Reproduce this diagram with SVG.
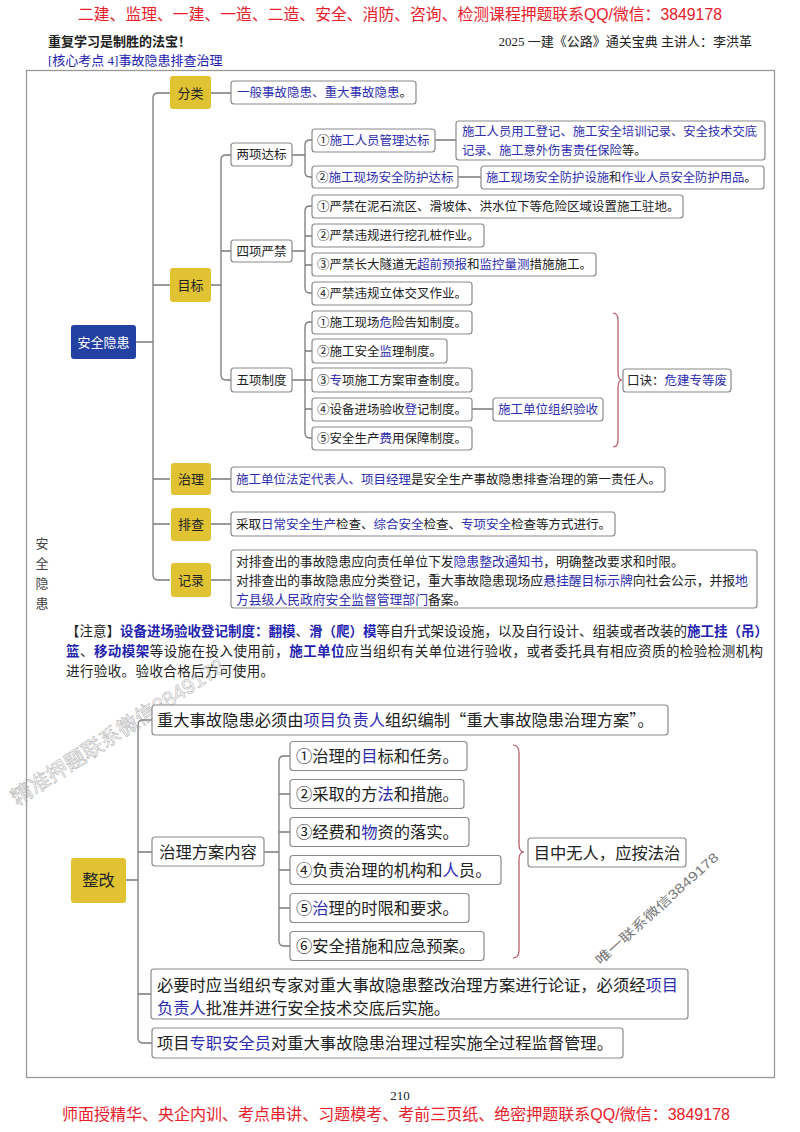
<svg xmlns="http://www.w3.org/2000/svg" width="800" height="1132" viewBox="0 0 800 1132">
<style>
.t{font-family:"Liberation Sans","Noto Sans CJK SC",sans-serif;font-size:12.5px;fill:#222}
.s{font-family:"Liberation Serif","Noto Sans CJK SC",serif}
.f13{font-size:13px}
.f123{font-size:12.3px}
.f135{font-size:13.5px}
.m{font-size:12.8px}
.l{font-size:16.3px}
.b{fill:#2e2eb0}
.bb{fill:#2323b0;font-weight:bold}
.red{fill:#e8202a;font-size:16px}
.box{fill:#fff;stroke:#8a8a8a;stroke-width:1.2}
.yb{fill:#e0c232}
.ln{fill:none;stroke:#7a7a7a;stroke-width:1.3}
.br{fill:none;stroke:#b5535f;stroke-width:1.2}
.c{text-anchor:middle}
.wm{fill:none;stroke:#a8a8a8;stroke-width:0.5;font-size:21px}
.cq{font-family:"Noto Sans CJK SC",sans-serif}
</style>
<rect width="800" height="1132" fill="#fff"/>
<g id="header">
<text class="t red c" x="400" y="20" textLength="644" lengthAdjust="spacingAndGlyphs">二建、监理、一建、一造、二造、安全、消防、咨询、检测课程押题联系QQ/微信：3849178</text>
<text class="t s f13" x="48" y="46" font-weight="bold">重复学习是制胜的法宝！</text>
<text class="t s f13" x="752" y="46" text-anchor="end">2025 一建《公路》通关宝典 主讲人：李洪革</text>
<text class="t s f13" x="48" y="65" style="fill:#2323b0">[核心考点 4]事故隐患排查治理</text>
</g>
<rect x="26.5" y="70.5" width="748" height="1007" fill="none" stroke="#999" stroke-width="1.3"/>
<g id="connectors">
<path class="ln" d="M136 342H153M170 93H158Q153 93 153 98V575Q153 580 158 580H170M153 285H170M153 479H170M153 524H170"/>
<path class="ln" d="M211 93H231M211 285H221M231 155H226Q221 155 221 160V375Q221 380 226 380H231M221 251H231"/>
<path class="ln" d="M292 155H305M312 140H310Q305 140 305 145V172Q305 177 310 177H312M435 140H456M458 177H481"/>
<path class="ln" d="M292 251H305M312 206H310Q305 206 305 211V288Q305 293 310 293H312M305 236H312M305 265H312"/>
<path class="ln" d="M292 380H305M312 322H310Q305 322 305 327V433Q305 438 310 438H312M305 351H312M305 380H312M305 409H312M472 409H493"/>
<path class="ln" d="M211 479H231M211 524H231M211 580H231"/>
<path class="br" d="M613 313Q618 313 618 320V372Q618 380 622 380Q618 380 618 388V440Q618 447 613 447"/>
<path class="ln" d="M152 720H143Q138 720 138 725V1038Q138 1043 143 1043H152M138 852H152M138 994H151M126 880H138M264 852H279"/>
<path class="ln" d="M290 756H284Q279 756 279 761V941Q279 946 284 946H290M279 794H290M279 832H290M279 870H290M279 908H290"/>
<path class="br" d="M513 745Q519 745 519 753V844Q519 852 524 852Q519 852 519 860V950Q519 958 513 958"/>
</g>
<g id="root"><rect x="71" y="325" width="65" height="34" rx="3" fill="#2340a3"/><text class="t c f13" x="103.5" y="347" style="fill:#fff">安全隐患</text></g>
<g id="fenlei"><rect class="yb" x="170" y="76" width="41" height="33" rx="3"/><text class="t c f13" x="190.5" y="97.5">分类</text></g>
<g id="fenlei-t"><rect class="box" x="231" y="81" width="185" height="23" rx="3"/><text class="t" x="237" y="97"><tspan class="b">一般事故隐患、重大事故隐患</tspan>。</text></g>
<g id="mubiao"><rect class="yb" x="170" y="268" width="41" height="34" rx="3"/><text class="t c f13" x="190.5" y="290">目标</text></g>
<g id="liangxiang"><rect class="box" x="231" y="143" width="61" height="23" rx="3"/><text class="t c" x="261.5" y="159">两项达标</text></g>
<g id="sixiang"><rect class="box" x="231" y="240" width="61" height="22" rx="3"/><text class="t c" x="261.5" y="255.5">四项严禁</text></g>
<g id="wuxiang"><rect class="box" x="231" y="368" width="61" height="24" rx="3"/><text class="t c" x="261.5" y="384.5">五项制度</text></g>
<g id="lx1"><rect class="box" x="312" y="129" width="123" height="23" rx="3"/><text class="t" x="317" y="145">①<tspan class="b">施工人员管理达标</tspan></text></g>
<g id="lx2"><rect class="box" x="312" y="166" width="146" height="22" rx="3"/><text class="t" x="316" y="181.5">②<tspan class="b">施工现场安全防护达标</tspan></text></g>
<g id="lx1d"><rect class="box" x="456" y="121" width="309" height="39" rx="3"/><text class="t f123" x="462" y="136"><tspan class="b">施工人员用工登记、施工安全培训记录、安全技术交底</tspan></text><text class="t f123" x="462" y="154.5"><tspan class="b">记录、施工意外伤害责任保险</tspan>等。</text></g>
<g id="lx2d"><rect class="box" x="481" y="166" width="283" height="23" rx="3"/><text class="t f123" x="486" y="182"><tspan class="b">施工现场安全防护设施</tspan>和<tspan class="b">作业人员安全防护用品</tspan>。</text></g>
<g id="sx1"><rect class="box" x="312" y="195" width="371" height="23" rx="3"/><text class="t" x="317" y="211">①严禁在泥石流区、滑坡体、洪水位下等危险区域设置施工驻地。</text></g>
<g id="sx2"><rect class="box" x="312" y="224" width="172" height="23" rx="3"/><text class="t" x="317" y="240">②严禁违规进行挖孔桩作业。</text></g>
<g id="sx3"><rect class="box" x="312" y="253" width="284" height="23" rx="3"/><text class="t" x="317" y="269">③严禁长大隧道无<tspan class="b">超前预报</tspan>和<tspan class="b">监控量测</tspan>措施施工。</text></g>
<g id="sx4"><rect class="box" x="312" y="282" width="160" height="23" rx="3"/><text class="t" x="317" y="298">④严禁违规立体交叉作业。</text></g>
<g id="wx1"><rect class="box" x="312" y="311" width="160" height="23" rx="3"/><text class="t" x="317" y="327">①施工现场<tspan class="b">危</tspan>险告知制度。</text></g>
<g id="wx2"><rect class="box" x="312" y="339" width="135" height="24" rx="3"/><text class="t" x="317" y="355.5">②施工安全<tspan class="b">监</tspan>理制度。</text></g>
<g id="wx3"><rect class="box" x="312" y="368" width="160" height="24" rx="3"/><text class="t" x="317" y="384.5">③<tspan class="b">专</tspan>项施工方案审查制度。</text></g>
<g id="wx4"><rect class="box" x="312" y="398" width="160" height="23" rx="3"/><text class="t" x="317" y="414">④设备进场验收<tspan class="b">登</tspan>记制度。</text></g>
<g id="wx5"><rect class="box" x="312" y="427" width="160" height="23" rx="3"/><text class="t" x="317" y="443">⑤安全生产<tspan class="b">费</tspan>用保障制度。</text></g>
<g id="ysh"><rect class="box" x="493" y="398" width="110" height="23" rx="3"/><text class="t b c" x="548" y="414">施工单位组织验收</text></g>
<g id="koujue"><rect class="box" x="623" y="369" width="108" height="23" rx="3"/><text class="t" x="627" y="385">口诀：<tspan class="b">危建专等废</tspan></text></g>
<g id="zhili"><rect class="yb" x="171" y="463" width="40" height="32" rx="3"/><text class="t c f13" x="191" y="484">治理</text></g>
<g id="zhili-t"><rect class="box" x="231" y="467" width="434" height="25" rx="3"/><text class="t" x="236" y="484"><tspan class="b">施工单位法定代表人、项目经理</tspan>是安全生产事故隐患排查治理的第一责任人。</text></g>
<g id="paicha"><rect class="yb" x="171" y="508" width="40" height="33" rx="3"/><text class="t c f13" x="191" y="529">排查</text></g>
<g id="paicha-t"><rect class="box" x="231" y="512" width="384" height="24" rx="3"/><text class="t" x="236" y="528.5">采取<tspan class="b">日常安全生产</tspan>检查、<tspan class="b">综合安全</tspan>检查、<tspan class="b">专项安全</tspan>检查等方式进行。</text></g>
<g id="jilu"><rect class="yb" x="171" y="563" width="40" height="34" rx="3"/><text class="t c f13" x="191" y="585">记录</text></g>
<g id="jilu-t"><rect class="box" x="231" y="550" width="526" height="58" rx="3"/>
<text class="t m" x="236" y="566">对排查出的事故隐患应向责任单位下发<tspan class="b">隐患整改通知书</tspan>，明确整改要求和时限。</text>
<text class="t m" x="236" y="585">对排查出的事故隐患应分类登记，重大事故隐患现场应<tspan class="b">悬挂醒目标示牌</tspan>向社会公示，并报<tspan class="b">地</tspan></text>
<text class="t m" x="236" y="604"><tspan class="b">方县级人民政府安全监督管理部门</tspan>备案。</text></g>
<g id="side-label">
<text class="t s c f13" x="42" y="548" style="fill:#444">安</text>
<text class="t s c f13" x="42" y="568" style="fill:#444">全</text>
<text class="t s c f13" x="42" y="588" style="fill:#444">隐</text>
<text class="t s c f13" x="42" y="608" style="fill:#444">患</text>
</g>
<g id="note">
<text class="t s f135" x="66" y="636">【注意】<tspan class="bb">设备进场验收登记制度：翻模</tspan>、<tspan class="bb">滑（爬）模</tspan>等自升式架设设施，以及自行设计、组装或者改装的<tspan class="bb">施工挂（吊）</tspan></text>
<text class="t s f135" x="66" y="656" letter-spacing="0.45"><tspan class="bb">篮</tspan>、<tspan class="bb">移动模架</tspan>等设施在投入使用前，<tspan class="bb">施工单位</tspan>应当组织有关单位进行验收，或者委托具有相应资质的检验检测机构</text>
<text class="t s f135" x="66" y="676" letter-spacing="0.4">进行验收。验收合格后方可使用。</text>
</g>
<g id="wm1"><text class="t wm" x="0" y="0" transform="translate(122 738) rotate(-33)" text-anchor="middle">精准押题联系微信3849178</text></g>
<g id="top-l"><rect class="box" x="152" y="705" width="516" height="30" rx="3"/><text class="t l" x="157" y="726">重大事故隐患必须由<tspan class="b">项目负责人</tspan>组织编制<tspan class="cq">“</tspan>重大事故隐患治理方案<tspan class="cq">”</tspan>。</text></g>
<g id="zhenggai"><rect class="yb" x="71" y="858" width="55" height="45" rx="3"/><text class="t l c" x="98.5" y="886">整改</text></g>
<g id="fangan"><rect class="box" x="152" y="837" width="112" height="29" rx="3"/><text class="t l c" x="208" y="858">治理方案内容</text></g>
<g id="fa1"><rect class="box" x="290" y="741.5" width="177" height="29" rx="3"/><text class="t l" x="296" y="762">①治理的<tspan class="b">目</tspan>标和任务。</text></g>
<g id="fa2"><rect class="box" x="290" y="779.5" width="174" height="29" rx="3"/><text class="t l" x="296" y="800">②采取的方<tspan class="b">法</tspan>和措施。</text></g>
<g id="fa3"><rect class="box" x="290" y="817.5" width="179" height="29" rx="3"/><text class="t l" x="296" y="838">③经费和<tspan class="b">物</tspan>资的落实。</text></g>
<g id="fa4"><rect class="box" x="290" y="855.5" width="211" height="29" rx="3"/><text class="t l" x="296" y="876">④负责治理的机构和<tspan class="b">人</tspan>员。</text></g>
<g id="fa5"><rect class="box" x="290" y="893.5" width="179" height="29" rx="3"/><text class="t l" x="296" y="914">⑤<tspan class="b">治</tspan>理的时限和要求。</text></g>
<g id="fa6"><rect class="box" x="290" y="931.5" width="194" height="29" rx="3"/><text class="t l" x="296" y="952">⑥安全措施和应急预案。</text></g>
<g id="mzwr"><rect class="box" x="528" y="838" width="158" height="29" rx="3"/><text class="t l c" x="607" y="858.5">目中无人，应按法治</text></g>
<g id="wm2"><text class="t f13" x="0" y="0" style="fill:#777" transform="translate(660 912) rotate(-42)" text-anchor="middle" textLength="160" lengthAdjust="spacingAndGlyphs">唯一联系微信3849178</text></g>
<g id="biyao"><rect class="box" x="151" y="969" width="537" height="50" rx="3"/>
<text class="t l" x="157" y="991">必要时应当组织专家对重大事故隐患整改治理方案进行论证，必须经<tspan class="b">项目</tspan></text>
<text class="t l" x="157" y="1014"><tspan class="b">负责人</tspan>批准并进行安全技术交底后实施。</text></g>
<g id="zhuanzhi"><rect class="box" x="152" y="1028" width="471" height="30" rx="3"/><text class="t l" x="157" y="1049">项目<tspan class="b">专职安全员</tspan>对重大事故隐患治理过程实施全过程监督管理。</text></g>
<g id="footer">
<text class="t s c f13" x="400" y="1100">210</text>
<text class="t red c" x="396" y="1120" textLength="668" lengthAdjust="spacingAndGlyphs">师面授精华、央企内训、考点串讲、习题模考、考前三页纸、绝密押题联系QQ/微信：3849178</text>
</g>
</svg>
